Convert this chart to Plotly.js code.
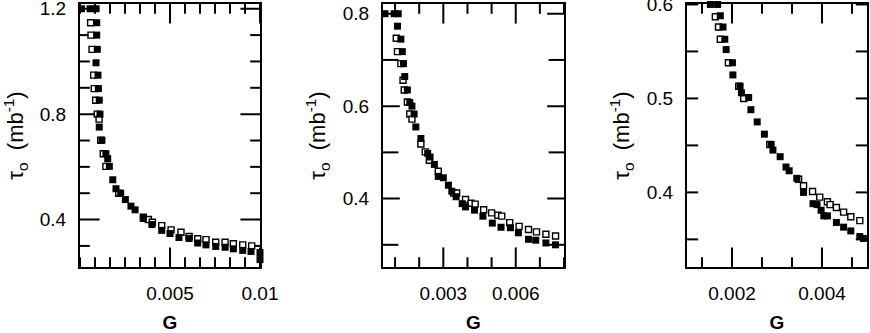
<!DOCTYPE html>
<html>
<head>
<meta charset="utf-8">
<script src="https://cdn.plot.ly/plotly-3.0.1.min.js"></script>
<style>
  html, body { margin: 0; padding: 0; background: #fff; }
  #chart { width: 870px; height: 333px; }
</style>
</head>
<body>
<div id="chart"></div>
<script>
// panel 1 (G up to 0.01)
var g1Filled = [0.00008, 0.00056, 0.00089, 0.00093, 0.00093, 0.00096, 0.00089, 0.0010, 0.00102, 0.00107,
  0.00111, 0.00107, 0.00122, 0.00144, 0.00154, 0.00163, 0.00182, 0.0020, 0.00226, 0.00252,
  0.00283, 0.00306, 0.00352, 0.0040, 0.00454, 0.0050, 0.0055, 0.00606, 0.00654, 0.0070,
  0.00754, 0.00806, 0.00852, 0.00904, 0.0095, 0.0100, 0.0100];
var tau1Filled = [1.2, 1.2, 1.2, 1.147, 1.100, 1.046, 0.995, 0.948, 0.897, 0.853,
  0.800, 0.751, 0.701, 0.650, 0.631, 0.602, 0.551, 0.517, 0.500, 0.476,
  0.451, 0.437, 0.404, 0.381, 0.359, 0.347, 0.332, 0.328, 0.311, 0.304,
  0.298, 0.295, 0.289, 0.283, 0.279, 0.275, 0.248];
var g1Open = [0.00059, 0.00061, 0.00067, 0.00076, 0.00079, 0.00087, 0.00096, 0.00106, 0.00115, 0.00129,
  0.00144, 0.00215, 0.00352, 0.0038, 0.00402, 0.00454, 0.00506, 0.00561, 0.00606, 0.00654,
  0.0070, 0.00754, 0.00806, 0.00852, 0.00904, 0.00954];
var tau1Open = [1.147, 1.100, 1.046, 0.948, 0.897, 0.853, 0.800, 0.781, 0.701, 0.650,
  0.602, 0.500, 0.409, 0.400, 0.390, 0.377, 0.361, 0.352, 0.336, 0.327,
  0.324, 0.314, 0.314, 0.308, 0.304, 0.300];

// panel 2 (G up to 0.008)
var g2Filled = [0.00058, 0.00096, 0.00113, 0.0011, 0.00124, 0.0013, 0.00135, 0.0014, 0.00151, 0.00161,
  0.0017, 0.00179, 0.00186, 0.00207, 0.00235, 0.00245, 0.00263, 0.00279, 0.0030, 0.00321,
  0.00335, 0.00353, 0.00378, 0.00392, 0.00429, 0.00464, 0.00503, 0.00539, 0.00578, 0.00611,
  0.00653, 0.00683, 0.00725, 0.00765];
var tau2Filled = [0.8, 0.8, 0.8, 0.773, 0.745, 0.718, 0.692, 0.664, 0.635, 0.608,
  0.600, 0.583, 0.555, 0.530, 0.498, 0.490, 0.474, 0.448, 0.445, 0.429,
  0.416, 0.404, 0.389, 0.382, 0.375, 0.362, 0.347, 0.338, 0.337, 0.326,
  0.312, 0.310, 0.304, 0.300];
var g2Open = [0.00105, 0.0011, 0.00124, 0.00133, 0.00138, 0.00151, 0.00161, 0.0017, 0.00207, 0.00225,
  0.00242, 0.00279, 0.00343, 0.00355, 0.00392, 0.00415, 0.00432, 0.00467, 0.0050, 0.00526,
  0.00542, 0.00575, 0.00614, 0.00653, 0.00686, 0.00725, 0.00765];
var tau2Open = [0.747, 0.718, 0.692, 0.656, 0.635, 0.609, 0.583, 0.572, 0.518, 0.501,
  0.483, 0.459, 0.412, 0.412, 0.398, 0.390, 0.388, 0.376, 0.369, 0.364,
  0.362, 0.348, 0.340, 0.333, 0.328, 0.323, 0.319];

// panel 3 (G from 0.001 to 0.005)
var g3Filled = [0.00152, 0.00168, 0.00501, 0.00174, 0.0018, 0.00184, 0.00187, 0.00201, 0.00202, 0.00218,
  0.00221, 0.00237, 0.00242, 0.00256, 0.00272, 0.00287, 0.00291, 0.00307, 0.0032, 0.00327,
  0.00344, 0.00359, 0.0038, 0.00389, 0.00398, 0.00404, 0.00412, 0.00432, 0.00448, 0.00464,
  0.00484, 0.00492, 0.00501];
var tau3Filled = [0.6, 0.6, 0.6, 0.588, 0.576, 0.563, 0.552, 0.538, 0.525, 0.513,
  0.506, 0.501, 0.488, 0.475, 0.462, 0.451, 0.445, 0.438, 0.427, 0.423,
  0.415, 0.400, 0.388, 0.387, 0.381, 0.375, 0.375, 0.368, 0.363, 0.359,
  0.353, 0.351, 0.350];
var g3Open = [0.00163, 0.0017, 0.00174, 0.00192, 0.00215, 0.00226, 0.00284, 0.00348, 0.00359, 0.00379,
  0.00395, 0.00412, 0.00418, 0.00432, 0.00448, 0.00464, 0.00484, 0.00501, 0.00501];
var tau3Open = [0.587, 0.576, 0.563, 0.538, 0.513, 0.500, 0.451, 0.414, 0.407, 0.401,
  0.395, 0.390, 0.387, 0.384, 0.379, 0.374, 0.370, 0.366, 0.361];

// axis ranges and labelled ticks
var xr1 = [0, 0.01], xr2 = [0.0005, 0.008], xr3 = [0.001, 0.005];
var yr1 = [0.22, 1.218], yr2 = [0.252, 0.821], yr3 = [0.3206, 0.6005];
var xt1 = [0.005, 0.01], xt2 = [0.003, 0.006], xt3 = [0.002, 0.004];
var yt1 = [0.4, 0.8, 1.2], yt2 = [0.4, 0.6, 0.8], yt3 = [0.4, 0.5, 0.6];

var openMarker = {symbol: 'square', size: 6, color: '#fff', line: {color: '#000', width: 1.4}};
var filledMarker = {symbol: 'square', size: 7, color: '#000', line: {width: 0}};

function pair(x1, y1, x2, y2, xa, ya) {
  return [
    {x: x1, y: y1, xaxis: xa, yaxis: ya, type: 'scatter', mode: 'markers', marker: openMarker, cliponaxis: false},
    {x: x2, y: y2, xaxis: xa, yaxis: ya, type: 'scatter', mode: 'markers', marker: filledMarker, cliponaxis: false}
  ];
}

// inside ticks: line markers centred on the frame edge, outer half clipped away
function steps(range, step) {
  var out = [];
  var k0 = Math.ceil(range[0] / step - 1e-6), k1 = Math.floor(range[1] / step + 1e-6);
  for (var k = k0; k <= k1; k++) out.push(k * step);
  return out;
}
function tickMarks(xa, ya, vals, edgeRange, vertical, len) {
  var pos = vals.concat(vals);
  var edge = vals.map(function () { return edgeRange[0]; }).concat(vals.map(function () { return edgeRange[1]; }));
  return {
    x: vertical ? pos : edge, y: vertical ? edge : pos, xaxis: xa, yaxis: ya,
    type: 'scatter', mode: 'markers', cliponaxis: true, hoverinfo: 'skip',
    marker: {symbol: vertical ? 'line-ns' : 'line-ew', size: 2 * len, color: '#000', line: {color: '#000', width: 2}}
  };
}
function panelTicks(xa, ya, xr, yr, xt, yt, xStep, yStep, xLen, xMinLen, yLen, yMinLen) {
  function notMajor(list, step) { return function (v) { return !list.some(function (m) { return Math.abs(m - v) < step * 0.01; }); }; }
  var xMinor = steps(xr, xStep).filter(notMajor(xt, xStep));
  var yMinor = steps(yr, yStep).filter(notMajor(yt, yStep));
  return [
    tickMarks(xa, ya, xt, yr, true, xLen),
    tickMarks(xa, ya, xMinor, yr, true, xMinLen),
    tickMarks(xa, ya, yt, xr, false, yLen),
    tickMarks(xa, ya, yMinor, xr, false, yMinLen)
  ];
}

var data = [].concat(
  panelTicks('x', 'y', xr1, yr1, xt1, yt1, 0.01 / 12, 0.1, 14, 7, 14, 7),
  panelTicks('x2', 'y2', xr2, yr2, xt2, yt2, 0.001, 0.1, 14, 7, 12, 11),
  panelTicks('x3', 'y3', xr3, yr3, xt3, yt3, 0.002 / 3, 0.05, 14, 7, 8, 8),
  pair(g1Open, tau1Open, g1Filled, tau1Filled, 'x', 'y'),
  pair(g2Open, tau2Open, g2Filled, tau2Filled, 'x2', 'y2'),
  pair(g3Open, tau3Open, g3Filled, tau3Filled, 'x3', 'y3')
);

var fam = 'Liberation Sans, Arial, sans-serif';
var tickFont = {family: fam, size: 19, color: '#000'};
var yTitle = {text: 'τ<sub>o</sub>  (mb<sup>-1</sup>)', font: {family: fam, size: 22, color: '#000'}, standoff: 11};
var xTitle = {text: '<b>G</b>', font: {family: fam, size: 19, color: '#000'}, standoff: 14};

function xAxis(domain, range, tickvals, anchor) {
  return {
    domain: domain, range: range, anchor: anchor,
    tickmode: 'array', tickvals: tickvals, ticktext: tickvals.map(String), ticks: '',
    showline: true, linewidth: 2, linecolor: '#000', mirror: true,
    showgrid: false, zeroline: false, tickfont: tickFont, title: xTitle,
    ticklabelstandoff: 8, ticklabeloverflow: 'allow'
  };
}
function yAxis(range, tickvals, anchor) {
  return {
    domain: [0, 1], range: range, anchor: anchor,
    tickmode: 'array', tickvals: tickvals, ticktext: tickvals.map(String), ticks: '',
    showline: true, linewidth: 2, linecolor: '#000', mirror: true,
    showgrid: false, zeroline: false, tickfont: tickFont, title: yTitle,
    ticklabelstandoff: 8, ticklabeloverflow: 'allow'
  };
}

var layout = {
  width: 870, height: 333,
  margin: {l: 0, r: 0, t: 4, b: 66},
  paper_bgcolor: '#fff', plot_bgcolor: '#fff',
  showlegend: false,
  xaxis: xAxis([80 / 870, 260 / 870], xr1, xt1, 'y'),
  yaxis: yAxis(yr1, yt1, 'x'),
  xaxis2: xAxis([383 / 870, 564 / 870], xr2, xt2, 'y2'),
  yaxis2: yAxis(yr2, yt2, 'x2'),
  xaxis3: xAxis([687 / 870, 867 / 870], xr3, xt3, 'y3'),
  yaxis3: yAxis(yr3, yt3, 'x3')
};

Plotly.newPlot('chart', data, layout, {staticPlot: true});
</script>
</body>
</html>
